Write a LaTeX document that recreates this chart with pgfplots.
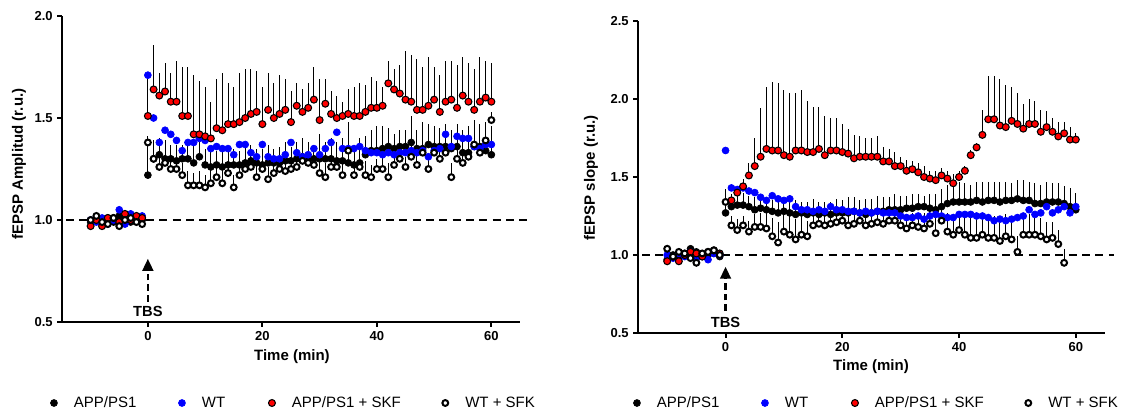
\documentclass[border=0pt]{standalone}
\usepackage{fontspec}
\setmainfont{Liberation Sans}
\usepackage{pgfplots}
\usepackage{pgfplotstable}
\pgfplotsset{compat=1.18}
\usetikzlibrary{arrows.meta}
\definecolor{mred}{RGB}{255,0,0}
\definecolor{mblue}{RGB}{0,0,255}

\pgfplotsset{
  panel/.style={
    scale only axis,
    axis lines=left,
    axis line style={-, line width=1.5pt},
    every tick/.style={black, line width=1.5pt},
    major tick length=3.5pt,
    tick align=outside,
    xmin=-15, xmax=65,
    xtick={0,20,40,60},
    ymin=0.5,
    /pgf/number format/assume math mode=true,
    tick label style={font=\fontsize{9.75}{10}\selectfont\bfseries},
    yticklabel style={/pgf/number format/.cd, fixed, fixed zerofill, precision=1, /tikz/.cd},
    label style={font=\fontsize{11.25}{12}\selectfont\bfseries},
    clip=false,
    legend columns=4,
    legend style={draw=none, fill=none, inner sep=0pt, outer sep=0pt,
      font=\fontsize{11.25}{12}\selectfont, anchor=west, nodes={inner sep=0pt}},
    legend image code/.code={\path[draw=none, fill=none] (-5pt,-3pt) rectangle (5pt,3pt); \draw[##1] plot coordinates {(0pt,0pt)};},
    /tikz/every odd column/.append style={column sep=10pt},
  },
  sblack/.style={only marks, mark=*, mark size=2.6pt, mark options={draw=black, fill=black, line width=0.5pt, solid}},
  sblue/.style={only marks, mark=*, mark size=2.6pt, mark options={draw=mblue, fill=mblue, line width=0.5pt, solid}},
  sred/.style={only marks, mark=*, mark size=2.6pt, mark options={draw=black, fill=mred, line width=0.8pt, solid}},
  swhite/.style={only marks, mark=*, mark size=2.2pt, mark options={draw=black, fill=white, line width=1.5pt, solid}},
  ebars/.style={forget plot, only marks, mark=none, error bars/.cd, y dir=plus, y explicit, error mark=none,
    error bar style={draw=black, line width=0.7pt, solid}},
}

\begin{document}
% ---------------- LEFT PANEL (Amplitud) ----------------
\pgfplotstableread{
t v e
-10 0.99 0
-9 1.00 0
-8 0.98 0
-7 1.01 0
-6 0.99 0
-5 1.02 0
-4 1.00 0
-3 0.99 0
-2 1.01 0
-1 1.00 0
0 1.22 0.16
1 1.30 0.09
2 1.32 0.08
3 1.30 0.09
4 1.30 0.07
5 1.29 0.08
6 1.30 0.07
7 1.30 0.08
8 1.28 0.09
9 1.31 0.07
10 1.27 0.08
11 1.26 0.09
12 1.27 0.07
13 1.26 0.08
14 1.27 0.07
15 1.27 0.08
16 1.27 0.07
17 1.28 0.09
18 1.29 0.08
19 1.28 0.07
20 1.27 0.08
21 1.28 0.09
22 1.28 0.07
23 1.28 0.08
24 1.29 0.09
25 1.29 0.07
26 1.30 0.08
27 1.31 0.09
28 1.30 0.08
29 1.30 0.07
30 1.30 0.12
31 1.30 0.08
32 1.30 0.10
33 1.29 0.09
34 1.29 0.11
35 1.28 0.15
36 1.27 0.10
37 1.28 0.12
38 1.32 0.09
39 1.34 0.10
40 1.34 0.12
41 1.35 0.11
42 1.36 0.09
43 1.35 0.07
44 1.36 0.08
45 1.36 0.08
46 1.38 0.13
47 1.35 0.09
48 1.35 0.13
49 1.37 0.10
50 1.36 0.10
51 1.36 0.09
52 1.36 0.11
53 1.35 0.09
54 1.36 0.11
55 1.33 0.11
56 1.33 0.13
57 1.36 0.13
58 1.36 0.11
59 1.34 0.14
60 1.32 0.14
}\LB
\pgfplotstableread{
t v
-10 1.00
-9 0.99
-8 1.01
-7 0.98
-6 1.00
-5 1.05
-4 0.98
-3 1.03
-2 1.00
-1 1.02
0 1.71
1 1.50
2 1.38
3 1.44
4 1.42
5 1.39
6 1.34
7 1.38
8 1.38
9 1.40
10 1.39
11 1.35
12 1.36
13 1.35
14 1.35
15 1.32
16 1.37
17 1.37
18 1.33
19 1.31
20 1.37
21 1.31
22 1.30
23 1.30
24 1.32
25 1.38
26 1.33
27 1.31
28 1.32
29 1.35
30 1.32
31 1.35
32 1.38
33 1.43
34 1.35
35 1.35
36 1.35
37 1.36
38 1.34
39 1.33
40 1.33
41 1.32
42 1.33
43 1.32
44 1.33
45 1.33
46 1.34
47 1.33
48 1.34
49 1.31
50 1.34
51 1.35
52 1.42
53 1.36
54 1.41
55 1.40
56 1.40
57 1.36
58 1.35
59 1.37
60 1.37
}\LU
\pgfplotstableread{
t v e
-10 0.97 0
-9 1.00 0
-8 0.97 0
-7 1.01 0
-6 1.01 0
-5 0.99 0
-4 1.03 0
-3 1.00 0
-2 1.02 0
-1 1.01 0
0 1.51 0.19
1 1.64 0.22
2 1.61 0.11
3 1.63 0.14
4 1.58 0.14
5 1.58 0.20
6 1.51 0.24
7 1.51 0.24
8 1.42 0.29
9 1.42 0.26
10 1.41 0.24
11 1.40 0.18
12 1.45 0.24
13 1.44 0.28
14 1.47 0.20
15 1.47 0.18
16 1.48 0.24
17 1.50 0.24
18 1.52 0.22
19 1.53 0.20
20 1.47 0.18
21 1.54 0.18
22 1.50 0.17
23 1.52 0.19
24 1.54 0.15
25 1.48 0.15
26 1.56 0.11
27 1.53 0.11
28 1.55 0.12
29 1.59 0.16
30 1.49 0.20
31 1.57 0.12
32 1.52 0.11
33 1.50 0.11
34 1.51 0.07
35 1.52 0.12
36 1.51 0.14
37 1.51 0.16
38 1.53 0.13
39 1.55 0.15
40 1.55 0.13
41 1.56 0.09
42 1.67 0.11
43 1.64 0.10
44 1.62 0.14
45 1.59 0.24
46 1.58 0.23
47 1.54 0.25
48 1.54 0.21
49 1.56 0.24
50 1.59 0.16
51 1.53 0.18
52 1.58 0.20
53 1.59 0.19
54 1.55 0.21
55 1.61 0.19
56 1.58 0.19
57 1.54 0.20
58 1.58 0.22
59 1.60 0.18
60 1.58 0.19
}\LR
\pgfplotstableread{
t v e
-10 1.00 0
-9 1.02 0
-8 0.99 0
-7 0.98 0
-6 1.01 0
-5 0.97 0
-4 1.00 0
-3 1.01 0
-2 0.99 0
-1 0.98 0
0 1.38 0.03
1 1.30 0.05
2 1.26 0.06
3 1.28 0.05
4 1.25 0.06
5 1.25 0.05
6 1.22 0.06
7 1.17 0.07
8 1.17 0.06
9 1.17 0.07
10 1.16 0.06
11 1.18 0.07
12 1.21 0.06
13 1.18 0.07
14 1.23 0.05
15 1.16 0.06
16 1.22 0.05
17 1.25 0.06
18 1.26 0.05
19 1.21 0.06
20 1.25 0.05
21 1.20 0.06
22 1.23 0.05
23 1.25 0.06
24 1.24 0.05
25 1.25 0.06
26 1.26 0.05
27 1.29 0.06
28 1.28 0.05
29 1.27 0.06
30 1.23 0.06
31 1.21 0.07
32 1.26 0.06
33 1.26 0.05
34 1.22 0.07
35 1.34 0.14
36 1.22 0.06
37 1.26 0.05
38 1.22 0.07
39 1.21 0.06
40 1.25 0.05
41 1.25 0.06
42 1.21 0.07
43 1.27 0.05
44 1.30 0.06
45 1.26 0.05
46 1.31 0.06
47 1.27 0.05
48 1.33 0.06
49 1.25 0.07
50 1.33 0.05
51 1.30 0.06
52 1.33 0.05
53 1.21 0.07
54 1.30 0.06
55 1.28 0.05
56 1.31 0.06
57 1.37 0.05
58 1.33 0.06
59 1.39 0.05
60 1.49 0.04
}\LW
% ---------------- RIGHT PANEL (slope) ----------------
\pgfplotstableread{
t v e
-10 0.97 0
-9 1.00 0
-8 0.99 0
-7 1.01 0
-6 1.04 0
-5 1.02 0
-4 0.99 0
-3 1.00 0
-2 1.01 0
-1 0.99 0
0 1.27 0.15
1 1.31 0.08
2 1.32 0.07
3 1.32 0.08
4 1.31 0.07
5 1.29 0.08
6 1.30 0.07
7 1.29 0.08
8 1.28 0.07
9 1.27 0.08
10 1.28 0.07
11 1.27 0.08
12 1.26 0.09
13 1.27 0.07
14 1.26 0.08
15 1.27 0.09
16 1.26 0.08
17 1.27 0.07
18 1.26 0.08
19 1.27 0.09
20 1.27 0.08
21 1.27 0.10
22 1.28 0.09
23 1.27 0.08
24 1.26 0.10
25 1.27 0.09
26 1.28 0.10
27 1.28 0.09
28 1.29 0.08
29 1.29 0.10
30 1.29 0.09
31 1.30 0.08
32 1.30 0.09
33 1.31 0.08
34 1.31 0.07
35 1.30 0.09
36 1.29 0.10
37 1.31 0.11
38 1.33 0.12
39 1.34 0.11
40 1.34 0.13
41 1.34 0.12
42 1.34 0.11
43 1.35 0.12
44 1.34 0.13
45 1.35 0.12
46 1.35 0.12
47 1.34 0.13
48 1.35 0.12
49 1.35 0.11
50 1.36 0.12
51 1.35 0.13
52 1.35 0.12
53 1.33 0.13
54 1.33 0.12
55 1.34 0.13
56 1.34 0.12
57 1.34 0.12
58 1.33 0.11
59 1.31 0.12
60 1.29 0.11
}\RB
\pgfplotstableread{
t v
-10 1.00
-9 0.98
-8 1.01
-7 0.99
-6 1.02
-5 0.98
-4 1.00
-3 0.97
-2 1.01
-1 1.00
0 1.67
1 1.43
2 1.42
3 1.43
4 1.41
5 1.40
6 1.37
7 1.35
8 1.38
9 1.36
10 1.35
11 1.36
12 1.31
13 1.29
14 1.29
15 1.28
16 1.29
17 1.28
18 1.31
19 1.29
20 1.29
21 1.28
22 1.28
23 1.27
24 1.28
25 1.27
26 1.28
27 1.27
28 1.27
29 1.27
30 1.25
31 1.24
32 1.24
33 1.25
34 1.23
35 1.25
36 1.26
37 1.25
38 1.24
39 1.24
40 1.26
41 1.26
42 1.26
43 1.25
44 1.25
45 1.24
46 1.22
47 1.23
48 1.22
49 1.23
50 1.24
51 1.25
52 1.29
53 1.26
54 1.27
55 1.31
56 1.27
57 1.29
58 1.31
59 1.27
60 1.31
}\RU
\pgfplotstableread{
t v e
-10 0.96 0
-9 0.99 0
-8 0.96 0
-7 1.00 0
-6 1.02 0
-5 1.01 0
-4 0.99 0
-3 1.02 0
-2 1.03 0
-1 1.01 0
1 1.35 0.02
2 1.40 0.04
3 1.44 0.05
4 1.51 0.08
5 1.57 0.18
6 1.63 0.31
7 1.68 0.40
8 1.67 0.44
9 1.67 0.43
10 1.64 0.42
11 1.63 0.41
12 1.67 0.37
13 1.67 0.39
14 1.66 0.33
15 1.66 0.29
16 1.68 0.27
17 1.64 0.25
18 1.67 0.21
19 1.67 0.21
20 1.66 0.18
21 1.65 0.16
22 1.62 0.15
23 1.63 0.13
24 1.63 0.12
25 1.63 0.12
26 1.63 0.13
27 1.60 0.09
28 1.60 0.08
29 1.57 0.09
30 1.57 0.06
31 1.54 0.07
32 1.55 0.05
33 1.53 0.06
34 1.50 0.07
35 1.49 0.05
36 1.48 0.06
37 1.51 0.05
38 1.49 0.05
39 1.46 0.06
40 1.50 0.04
41 1.54 0.03
42 1.64 0.03
43 1.69 0.03
44 1.77 0.16
45 1.87 0.28
46 1.87 0.28
47 1.83 0.30
48 1.82 0.27
49 1.86 0.22
50 1.84 0.20
51 1.81 0.16
52 1.84 0.16
53 1.84 0.15
54 1.79 0.14
55 1.82 0.10
56 1.79 0.09
57 1.76 0.09
58 1.78 0.07
59 1.74 0.08
60 1.74 0.04
}\RR
\pgfplotstableread{
t v e
-10 1.04 0
-9 0.99 0
-8 1.02 0
-7 1.01 0
-6 0.98 0
-5 0.95 0
-4 1.01 0
-3 1.02 0
-2 1.03 0
-1 1.00 0
0 1.34 0.03
1 1.19 0.06
2 1.16 0.07
3 1.19 0.06
4 1.15 0.07
5 1.18 0.08
6 1.18 0.09
7 1.17 0.10
8 1.12 0.12
9 1.08 0.13
10 1.15 0.12
11 1.13 0.14
12 1.10 0.13
13 1.13 0.12
14 1.12 0.10
15 1.19 0.07
16 1.20 0.06
17 1.19 0.07
18 1.20 0.06
19 1.21 0.07
20 1.22 0.06
21 1.19 0.07
22 1.20 0.06
23 1.22 0.06
24 1.19 0.07
25 1.20 0.06
26 1.21 0.07
27 1.20 0.06
28 1.22 0.06
29 1.22 0.07
30 1.19 0.08
31 1.17 0.09
32 1.19 0.08
33 1.18 0.09
34 1.17 0.10
35 1.20 0.09
36 1.14 0.12
37 1.22 0.08
38 1.15 0.12
39 1.13 0.13
40 1.16 0.12
41 1.13 0.14
42 1.11 0.13
43 1.11 0.15
44 1.13 0.14
45 1.11 0.15
46 1.11 0.14
47 1.09 0.15
48 1.12 0.14
49 1.10 0.13
50 1.02 0.10
51 1.13 0.12
52 1.13 0.13
53 1.13 0.11
54 1.12 0.12
55 1.10 0.11
56 1.11 0.10
57 1.07 0.09
58 0.95 0.09
}\RW

\begin{tikzpicture}
\useasboundingbox (0,0) rectangle (846.75pt,311.25pt);
% ===== Left =====
\begin{axis}[panel,
  at={(46.5pt,69.75pt)}, anchor=south west,
  width=343.5pt, height=229.5pt,
  ymax=2.0, ytick={0.5,1.0,1.5,2.0},
  ylabel={fEPSP Amplitud (r.u.)}, xlabel={Time (min)},
  ylabel style={at={(axis description cs:-0.094,0.516)}, anchor=center},
  xlabel style={at={(axis description cs:0.502,-0.113)}, anchor=center},
  legend style={at={(axis description cs:-0.0321,-0.2647)}},
]
\draw[line width=1.8pt, dash pattern=on 6pt off 4pt] (axis cs:-14.3,1) -- (axis cs:66.5,1);
\addplot[ebars] table[x=t, y=v, y error=e] \LB;
\addplot[ebars] table[x=t, y=v, y error=e] \LR;
\addplot[ebars] table[x=t, y=v, y error=e] \LW;
\addplot[sblack] table[x=t, y=v] \LB;
\addlegendentry{\makebox[76pt][l]{APP/PS1}}
\addplot[sblue] table[x=t, y=v] \LU;
\addlegendentry{\makebox[47.5pt][l]{WT}}
\addplot[sred] table[x=t, y=v] \LR;
\addlegendentry{\makebox[110pt][l]{APP/PS1 + SKF}}
\addplot[swhite] table[x=t, y=v] \LW;
\addlegendentry{WT + SFK}
\draw[line width=1.8pt, dash pattern=on 5pt off 3pt, -{Triangle[width=8pt,length=9pt]}] (axis cs:0,0.60) -- (axis cs:0,0.81);
\node[font=\fontsize{11}{12}\selectfont\bfseries] at (axis cs:0,0.55) {TBS};
\end{axis}
% ===== Right =====
\begin{axis}[panel,
  at={(478.5pt,61.5pt)}, anchor=south west,
  width=350.25pt, height=234pt,
  ymax=2.5, ytick={0.5,1.0,1.5,2.0,2.5},
  ylabel={fEPSP slope (r.u.)}, xlabel={Time (min)},
  ylabel style={at={(axis description cs:-0.1006,0.497)}, anchor=center},
  xlabel style={at={(axis description cs:0.499,-0.108)}, anchor=center},
  legend style={at={(axis description cs:-0.0165,-0.2244)}},
]
\draw[line width=1.8pt, dash pattern=on 6pt off 4pt] (axis cs:-14.3,1) -- (axis cs:66.5,1);
\addplot[ebars] table[x=t, y=v, y error=e] \RB;
\addplot[ebars] table[x=t, y=v, y error=e] \RR;
\addplot[ebars] table[x=t, y=v, y error=e] \RW;
\addplot[sblack] table[x=t, y=v] \RB;
\addlegendentry{\makebox[76pt][l]{APP/PS1}}
\addplot[sblue] table[x=t, y=v] \RU;
\addlegendentry{\makebox[47.5pt][l]{WT}}
\addplot[sred] table[x=t, y=v] \RR;
\addlegendentry{\makebox[110pt][l]{APP/PS1 + SKF}}
\addplot[swhite] table[x=t, y=v] \RW;
\addlegendentry{WT + SFK}
\draw[line width=1.8pt, dash pattern=on 5pt off 3pt, -{Triangle[width=8pt,length=9pt]}] (axis cs:0,0.64) -- (axis cs:0,0.925);
\node[font=\fontsize{11}{12}\selectfont\bfseries] at (axis cs:0,0.57) {TBS};
\end{axis}
\end{tikzpicture}
\end{document}
